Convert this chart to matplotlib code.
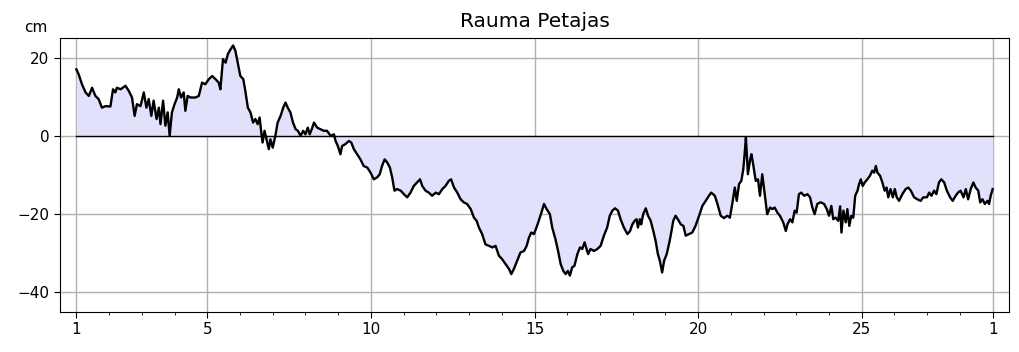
import numpy as np
import matplotlib
matplotlib.use('Agg')
import matplotlib.pyplot as plt

# Sea level at Rauma Petajas, day of month vs cm
day = [
    1.00, 1.07, 1.17, 1.28, 1.38, 1.48, 1.58, 1.68, 1.78, 1.89,
    2.04, 2.12, 2.19, 2.24, 2.35, 2.50, 2.60, 2.70, 2.78, 2.85,
    2.96, 3.06, 3.14, 3.21, 3.29, 3.36, 3.45, 3.52, 3.57, 3.65,
    3.72, 3.79, 3.85, 3.92, 4.00, 4.08, 4.13, 4.20, 4.28, 4.33,
    4.40, 4.49, 4.64, 4.74, 4.84, 4.94, 5.05, 5.15, 5.25, 5.35,
    5.40, 5.48, 5.56, 5.63, 5.71, 5.79, 5.86, 5.93, 6.01, 6.10,
    6.17, 6.24, 6.32, 6.40, 6.47, 6.54, 6.60, 6.65, 6.69, 6.75,
    6.81, 6.88, 6.93, 7.00, 7.08, 7.15, 7.24, 7.32, 7.39, 7.46,
    7.54, 7.62, 7.70, 7.77, 7.85, 7.93, 8.00, 8.07, 8.13, 8.21,
    8.26, 8.36, 8.46, 8.56, 8.66, 8.77, 8.87, 8.92, 8.99, 9.07,
    9.12, 9.22, 9.33, 9.40, 9.48, 9.58, 9.68, 9.78, 9.89,
    9.99, 10.09, 10.19, 10.27, 10.34, 10.42, 10.50, 10.58, 10.65, 10.72,
    10.80, 10.91, 11.01, 11.11, 11.21, 11.31, 11.41, 11.50, 11.57, 11.67,
    11.77, 11.87, 11.98, 12.08, 12.18, 12.28, 12.38, 12.45, 12.54, 12.64,
    12.74, 12.84, 12.94, 13.05, 13.15, 13.23, 13.30, 13.40, 13.50, 13.61,
    13.71, 13.81, 13.91, 14.01, 14.12, 14.22, 14.29, 14.37, 14.47,
    14.57, 14.68, 14.76, 14.83, 14.90, 14.98, 15.06, 15.13, 15.21, 15.29,
    15.37, 15.47, 15.54, 15.64, 15.72, 15.80, 15.88, 15.95, 16.02, 16.08,
    16.15, 16.22, 16.31, 16.39, 16.46, 16.53, 16.59, 16.64, 16.71, 16.82,
    16.92, 17.02, 17.12, 17.22, 17.30, 17.38, 17.46, 17.55, 17.63, 17.73,
    17.84, 17.92, 17.99, 18.06, 18.12, 18.16, 18.22, 18.26, 18.32, 18.40,
    18.47, 18.55, 18.63, 18.70, 18.77, 18.83, 18.90, 18.96, 19.04, 19.12,
    19.16, 19.24, 19.31, 19.38, 19.47, 19.55, 19.62, 19.72, 19.82, 19.92,
    20.03, 20.13, 20.23, 20.33, 20.40, 20.51, 20.59, 20.69, 20.79, 20.89,
    20.97, 21.05, 21.12, 21.18, 21.25, 21.32, 21.38, 21.42, 21.46, 21.52,
    21.59, 21.63, 21.69, 21.76, 21.83, 21.89, 21.96, 22.03, 22.11, 22.20,
    22.27, 22.34, 22.42, 22.50, 22.60, 22.68, 22.73, 22.81, 22.88, 22.95,
    23.01, 23.08, 23.15, 23.24, 23.34, 23.42, 23.49, 23.56, 23.64, 23.73,
    23.75, 23.85, 23.93, 24.00, 24.07, 24.13, 24.20, 24.28, 24.34, 24.38,
    24.44, 24.51, 24.56, 24.62, 24.68, 24.74, 24.80, 24.87, 24.92, 24.97,
    25.03, 25.09, 25.17, 25.25, 25.32, 25.38, 25.43, 25.48, 25.56, 25.63,
    25.70, 25.76, 25.81, 25.88, 25.95, 26.01, 26.07, 26.14, 26.24, 26.34,
    26.42, 26.50, 26.60, 26.70, 26.80, 26.88, 26.99, 27.06, 27.13, 27.21,
    27.28, 27.36, 27.43, 27.52, 27.60, 27.70, 27.78, 27.87, 27.94, 28.02,
    28.11, 28.18, 28.25, 28.33, 28.41, 28.48, 28.56, 28.62, 28.69, 28.76,
    28.84, 28.89, 28.94, 29.00,
]

level = [
    17.0, 15.7, 13.2, 11.1, 10.2, 12.3, 10.2, 9.4, 7.2, 7.6,
    7.5, 11.9, 11.1, 12.3, 11.9, 12.8, 11.5, 9.8, 5.1, 8.1,
    7.6, 11.1, 7.2, 9.4, 5.1, 9.0, 4.3, 7.2, 3.0, 9.0,
    2.6, 6.0, 0.0, 6.0, 8.1, 9.8, 11.9, 9.8, 11.1, 6.4,
    10.2, 9.8, 9.8, 10.2, 13.6, 13.2, 14.5, 15.3, 14.5, 13.6,
    11.9, 19.6, 18.7, 20.9, 22.1, 23.1, 21.7, 18.7, 15.3, 14.5,
    11.1, 7.2, 6.0, 3.4, 4.3, 3.0, 4.7, 0.9, -1.7, 1.3,
    -0.9, -3.4, -0.9, -3.0, 0.0, 3.4, 5.1, 7.2, 8.5, 7.2,
    6.0, 3.4, 1.7, 1.3, 0.0, 1.3, 0.4, 2.1, 0.4, 2.1,
    3.4, 2.1, 1.7, 1.3, 1.3, 0.0, 0.4, -1.3, -2.6, -4.7,
    -2.6, -2.1, -1.3, -1.7, -3.4, -4.7, -6.0, -7.7, -8.1,
    -9.4, -11.1, -10.6, -9.8, -7.7, -6.0, -6.8, -8.1, -10.6, -14.0,
    -13.6, -14.0, -14.9, -15.7, -14.5, -12.8, -11.9, -11.1, -12.8, -14.0,
    -14.5, -15.3, -14.5, -14.9, -13.6, -12.8, -11.5, -11.1, -13.2, -14.5,
    -16.2, -17.0, -17.4, -18.7, -20.9, -21.7, -23.4, -25.1, -27.7, -28.1,
    -28.5, -28.1, -30.6, -31.5, -32.8, -34.0, -35.3, -34.0, -31.9,
    -29.8, -29.4, -28.1, -26.0, -24.7, -25.1, -23.4, -21.7, -19.6, -17.4,
    -18.7, -20.0, -23.4, -26.4, -29.4, -32.8, -34.5, -35.3, -34.5, -35.7,
    -33.6, -33.2, -30.2, -28.5, -28.9, -27.2, -28.9, -30.2, -28.9, -29.4,
    -28.9, -28.1, -25.5, -23.4, -20.4, -19.1, -18.5, -19.1, -21.3, -23.4,
    -25.1, -24.3, -22.6, -21.7, -21.3, -23.4, -21.3, -22.6, -20.0, -18.5,
    -20.4, -21.7, -24.3, -26.8, -30.2, -31.9, -34.9, -31.9, -30.2, -27.2,
    -25.5, -21.7, -20.4, -21.3, -22.6, -23.0, -25.5, -25.1, -24.7, -23.0,
    -20.4, -17.9, -16.6, -15.3, -14.5, -15.3, -17.4, -20.4, -21.0, -20.4,
    -20.9, -17.0, -13.2, -16.6, -12.3, -11.5, -8.5, -4.7, -0.4, -9.8,
    -6.0, -4.7, -7.7, -11.5, -11.1, -15.3, -9.8, -14.5, -20.0, -18.3,
    -18.7, -18.3, -19.6, -20.4, -22.1, -24.3, -22.6, -21.3, -22.1, -19.1,
    -19.6, -14.9, -14.5, -15.3, -14.9, -15.7, -18.3, -20.0, -17.4, -17.0,
    -17.0, -17.4, -18.7, -20.4, -17.9, -21.3, -20.9, -21.7, -18.0, -24.7,
    -19.1, -22.1, -18.7, -23.0, -20.4, -20.9, -15.3, -14.0, -12.3, -11.1,
    -12.8, -11.9, -11.1, -10.2, -8.9, -9.4, -7.7, -9.4, -10.2, -11.9,
    -14.0, -13.2, -15.7, -13.6, -15.7, -13.6, -15.7, -16.6, -14.9, -13.6,
    -13.2, -14.0, -15.7, -16.2, -16.6, -15.7, -15.7, -14.5, -15.3, -14.0,
    -14.9, -11.9, -11.1, -11.9, -14.0, -15.7, -16.6, -15.3, -14.5, -14.0,
    -15.7, -13.6, -16.2, -13.6, -11.9, -13.2, -14.0, -17.0, -16.2, -17.4,
    -16.6, -17.4, -15.3, -13.6,
]

tick_days = [1, 5, 10, 15, 20, 25, 29]
tick_labels = ['1', '5', '10', '15', '20', '25', '1']

day = np.array(day)
level = np.array(level)

fig = plt.figure(figsize=(10.19, 3.52), dpi=100)
ax = fig.add_axes([0.0589, 0.1136, 0.9313, 0.7784])

ax.fill_between(day, level, 0, color='#e1e1fb', linewidth=0)
ax.plot([day[0], day[-1]], [0, 0], color='black', linewidth=1.0)
ax.plot(day, level, color='black', linewidth=1.7)

ax.set_xlim(0.5, 29.5)
ax.set_ylim(-45, 25)
ax.set_xticks(tick_days)
ax.set_xticklabels(tick_labels)
ax.set_xticks(np.arange(1, 30), minor=True)
ax.set_yticks([-40, -20, 0, 20])
ax.tick_params(axis='both', which='major', labelsize=11, length=4)
ax.tick_params(axis='x', which='minor', length=2)
ax.grid(True, which='major', color='#b0b0b0', linewidth=1.0)
ax.set_axisbelow(True)

ax.set_title('Rauma Petajas', fontsize=14.5, pad=8)
ax.text(-0.025, 1.012, 'cm', transform=ax.transAxes, ha='center',
        va='bottom', fontsize=11)

fig.savefig('out.png', dpi=100)
